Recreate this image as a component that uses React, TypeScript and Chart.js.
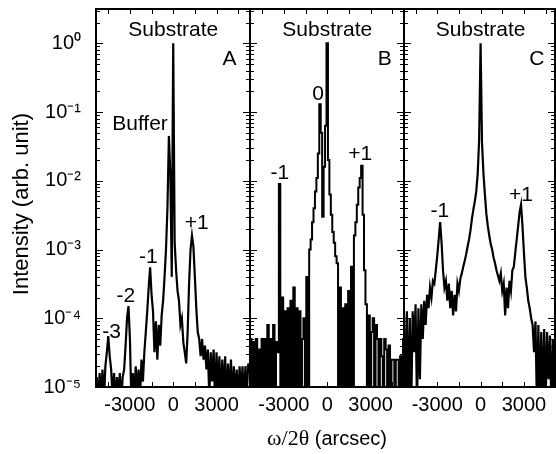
import { useEffect, useRef } from 'react';
import { Chart, registerables } from 'chart.js';

Chart.register(...registerables);

const FONT = '"Liberation Sans", Arial, Helvetica, sans-serif';
const SERIF = '"Liberation Serif", "Times New Roman", serif';

// omega/2theta angle (arcsec), shared by the three scans
const angles = [
  -5300, -5200, -5100, -5000, -4900, -4800, -4700, -4600, -4500, -4400,
  -4300, -4200, -4100, -4000, -3900, -3800, -3700, -3600, -3500, -3400,
  -3300, -3200, -3100, -3000, -2900, -2800, -2700, -2600, -2500, -2400,
  -2300, -2200, -2100, -2000, -1900, -1800, -1700, -1600, -1500, -1400,
  -1300, -1200, -1100, -1000, -900, -800, -700, -600, -500, -400,
  -300, -200, -100, 0, 100, 200, 300, 400, 500, 600,
  700, 800, 900, 1000, 1100, 1200, 1300, 1400, 1500, 1600,
  1700, 1800, 1900, 2000, 2100, 2200, 2300, 2400, 2500, 2600,
  2700, 2800, 2900, 3000, 3100, 3200, 3300, 3400, 3500, 3600,
  3700, 3800, 3900, 4000, 4100, 4200, 4300, 4400, 4500, 4600,
  4700, 4800, 4900, 5000, 5100, 5200, 5300,
];

// Panel A intensity (arb. unit)
const intensityA = [
  1.4e-5, 6e-6, 1.6e-5, 7e-6, 1.8e-5, 6e-6, 2e-5, 3.2e-5, 5.5e-5, 2.8e-5,
  1.8e-5, 7e-6, 1.6e-5, 6e-6, 1.4e-5, 7e-6, 1.6e-5, 6e-6, 1.4e-5, 1.8e-5,
  4e-5, 1e-4, 1.5e-4, 5e-5, 6e-6, 1.6e-5, 7e-6, 2e-5, 8e-6, 1.8e-5,
  7e-6, 2.5e-5, 1.2e-5, 3.2e-5, 6.3e-5, 1.26e-4, 2.8e-4, 5.5e-4, 2.2e-4, 1.26e-4,
  3.2e-5, 9e-5, 2.5e-5, 8e-5, 4e-5, 1.1e-4, 1.8e-4, 4e-4, 1e-3, 4e-3,
  0.045, 0.0126, 4e-4, 1, 1.26e-3, 5e-4, 2.5e-4, 1.8e-4, 8e-5, 1e-4,
  4.5e-5, 3.2e-5, 2.2e-5, 6.3e-5, 3.2e-4, 1e-3, 1.6e-3, 1.1e-3, 4e-4, 1.4e-4,
  6.3e-5, 5e-5, 2.8e-5, 5e-5, 2.5e-5, 4e-5, 1.8e-5, 3.5e-5, 7e-6, 3.2e-5,
  1.2e-5, 3.5e-5, 6e-6, 3.2e-5, 8e-6, 2.8e-5, 6e-6, 2.5e-5, 8e-6, 2.8e-5,
  6e-6, 2.2e-5, 7e-6, 2.5e-5, 6e-6, 2e-5, 7e-6, 1.8e-5, 6e-6, 2e-5,
  7e-6, 2e-5, 6e-6, 2e-5, 8e-6, 2.2e-5, 1.6e-5,
];

// Panel B intensity (arb. unit)
const intensityB = [
  5e-5, 5e-6, 4.5e-5, 5e-6, 5e-5, 5e-6, 3.5e-5, 5e-6, 5e-5, 5e-6,
  5e-5, 5e-6, 8e-5, 5e-6, 5e-5, 5e-6, 8e-5, 5e-6, 4.5e-5, 3.2e-5,
  9e-3, 5e-6, 2e-4, 5e-6, 1.26e-4, 5e-6, 1.4e-4, 5e-6, 1.8e-4, 5e-6,
  2.8e-4, 5e-6, 1.4e-4, 5e-6, 1.26e-4, 5e-6, 5e-5, 1e-4, 5e-6, 4e-4,
  5e-6, 1e-3, 1.4e-3, 2.5e-3, 4e-3, 7e-3, 0.011, 0.025, 0.13, 0.05,
  3e-3, 0.016, 0.063, 1, 0.02, 6.3e-3, 3.2e-3, 1.8e-3, 1.26e-3, 8e-4,
  6.3e-4, 5e-6, 2.8e-4, 5e-6, 1.4e-4, 5e-6, 1.6e-4, 5e-6, 2.5e-4, 5e-6,
  5.6e-4, 5e-6, 1.6e-3, 2.5e-3, 4.5e-3, 8e-3, 0.011, 0.0166, 3.2e-3, 5e-4,
  1.6e-4, 5e-6, 1.1e-4, 5e-6, 6.3e-5, 1e-4, 5e-6, 8e-5, 5e-5, 5e-6,
  5e-5, 2.8e-5, 5e-6, 5e-5, 3.5e-5, 5e-6, 4e-5, 5e-6, 2.5e-5, 2.5e-5,
  5e-6, 2.5e-5, 2.5e-5, 5e-6, 2.8e-5, 5e-6, 5e-5,
];

// Panel C intensity (arb. unit)
const intensityC = [
  1.1e-4, 5e-6, 1.26e-4, 5e-6, 1e-4, 5e-6, 1.26e-4, 3.2e-5, 1.6e-4, 5e-6,
  1.4e-4, 1.3e-5, 1.6e-4, 5e-5, 1.8e-4, 8e-5, 2.2e-4, 1.4e-4, 2.8e-4, 2e-4,
  3.5e-4, 3.2e-4, 5e-4, 8e-4, 1.4e-3, 2.5e-3, 1.26e-3, 5e-4, 2.8e-4, 3.5e-4,
  1.8e-4, 3.2e-4, 1.4e-4, 2.5e-4, 1.1e-4, 2.2e-4, 1.26e-4, 3.2e-4, 2.5e-4, 3.8e-4,
  4.5e-4, 5.6e-4, 6.8e-4, 8.5e-4, 1.1e-3, 1.4e-3, 1.9e-3, 2.8e-3, 3.8e-3, 5e-3,
  7e-3, 0.0126, 0.04, 1, 0.035, 0.0126, 6.3e-3, 3.3e-3, 2.2e-3, 1.6e-3,
  1.2e-3, 1e-3, 7.6e-4, 6.3e-4, 5e-4, 4.2e-4, 3.5e-4, 4.5e-4, 2.5e-4, 3.2e-4,
  1.1e-4, 2.8e-4, 1.4e-4, 3.5e-4, 2.5e-4, 5e-4, 5.6e-4, 9e-4, 1.4e-3, 2.2e-3,
  3.5e-3, 4.5e-3, 2.2e-3, 9e-4, 4e-4, 2.8e-4, 1.8e-4, 1.4e-4, 1e-4, 8e-5,
  3.2e-5, 9e-5, 5e-6, 8e-5, 5e-6, 6.3e-5, 5e-6, 7e-5, 5e-6, 6.3e-5,
  1.3e-5, 5.6e-5, 5e-6, 5e-5, 5e-6, 5.6e-5, 1.6e-5,
];

const xTickValues = [-4500, -3000, -1500, 0, 1500, 3000, 4500];
const xTickLabels = ['', '-3000', '', '0', '', '3000', ''];
const yTickValues = [1e-5, 1e-4, 1e-3, 1e-2, 1e-1, 1];
const yTickLabels = ['10⁻⁵', '10⁻⁴', '10⁻³', '10⁻²', '10⁻¹', '10⁰'];
const yMinorFactors = [2, 3, 4, 5, 6, 7, 8, 9];

type Note = { text: string; x: number; y: number };

const notesA: Note[] = [
  { text: 'Substrate', x: 0, y: 1.26 },
  { text: 'A', x: 3900, y: 0.48 },
  { text: 'Buffer', x: -2300, y: 0.0557 },
  { text: '+1', x: 1620, y: 2.0e-3 },
  { text: '-1', x: -1730, y: 6.3e-4 },
  { text: '-2', x: -3290, y: 1.74e-4 },
  { text: '-3', x: -4265, y: 5.1e-5 },
];
const notesB: Note[] = [
  { text: 'Substrate', x: 0, y: 1.26 },
  { text: 'B', x: 3990, y: 0.48 },
  { text: '0', x: -640, y: 0.148 },
  { text: '+1', x: 2290, y: 0.0204 },
  { text: '-1', x: -3280, y: 0.0107 },
];
const notesC: Note[] = [
  { text: 'Substrate', x: 0, y: 1.26 },
  { text: 'C', x: 3890, y: 0.48 },
  { text: '-1', x: -2820, y: 2.95e-3 },
  { text: '+1', x: 2800, y: 5e-3 },
];

const framePlugin = {
  id: 'frameTicks',
  afterDraw(chart: any) {
    const { ctx, chartArea: a } = chart;
    const xs = chart.scales.x;
    const ys = chart.scales.y;
    ctx.save();
    ctx.strokeStyle = '#000';
    ctx.lineWidth = 1;
    ctx.beginPath();
    for (const v of xTickValues) {
      const px = Math.round(xs.getPixelForValue(v)) + 0.5;
      ctx.moveTo(px, a.bottom);
      ctx.lineTo(px, a.bottom - 5);
      ctx.moveTo(px, a.top);
      ctx.lineTo(px, a.top + 5);
    }
    for (const v of yTickValues) {
      const py = Math.round(ys.getPixelForValue(v)) + 0.5;
      ctx.moveTo(a.left, py);
      ctx.lineTo(a.left + 7, py);
      ctx.moveTo(a.right, py);
      ctx.lineTo(a.right - 7, py);
      for (const f of yMinorFactors) {
        const m = v * f;
        if (m > ys.max) continue;
        const pm = Math.round(ys.getPixelForValue(m)) + 0.5;
        ctx.moveTo(a.left, pm);
        ctx.lineTo(a.left + 4, pm);
        ctx.moveTo(a.right, pm);
        ctx.lineTo(a.right - 4, pm);
      }
    }
    ctx.stroke();
    ctx.lineWidth = 2;
    ctx.strokeRect(a.left, a.top, a.right - a.left, a.bottom - a.top);
    ctx.restore();
  },
};

function notesPlugin(notes: Note[], withXTitle: boolean) {
  return {
    id: 'panelNotes',
    afterDraw(chart: any) {
      const { ctx, chartArea: a } = chart;
      const xs = chart.scales.x;
      const ys = chart.scales.y;
      ctx.save();
      ctx.fillStyle = '#000';
      ctx.font = `21px ${FONT}`;
      ctx.textAlign = 'center';
      ctx.textBaseline = 'alphabetic';
      for (const n of notes) {
        ctx.fillText(n.text, xs.getPixelForValue(n.x), ys.getPixelForValue(n.y));
      }
      if (withXTitle) {
        const part1 = 'ω/2θ';
        const part2 = ' (arcsec)';
        ctx.textAlign = 'left';
        ctx.font = `22px ${SERIF}`;
        const w1 = ctx.measureText(part1).width;
        ctx.font = `20px ${FONT}`;
        const w2 = ctx.measureText(part2).width;
        const cx = (a.left + a.right) / 2;
        const x0 = cx - (w1 + w2) / 2;
        const base = 445;
        ctx.font = `22px ${SERIF}`;
        ctx.fillText(part1, x0, base);
        ctx.font = `20px ${FONT}`;
        ctx.fillText(part2, x0 + w1, base);
      }
      ctx.restore();
    },
  };
}

type PanelSpec = {
  values: number[];
  notes: Note[];
  showY: boolean;
  stepped: boolean;
  lineWidth: number;
  xMin: number;
  xMax: number;
  padLeft: number;
  padRight: number;
  xTitle: boolean;
};

function makeChart(canvas: HTMLCanvasElement, p: PanelSpec) {
  return new Chart(canvas, {
    type: 'line',
    data: {
      datasets: [
        {
          data: angles.map((a, i) => ({ x: a, y: p.values[i] })),
          borderColor: '#000',
          borderWidth: p.lineWidth,
          pointRadius: 0,
          fill: false,
          tension: 0,
          stepped: p.stepped ? 'middle' : false,
        } as any,
      ],
    },
    options: {
      animation: false,
      responsive: false,
      maintainAspectRatio: false,
      devicePixelRatio: 1,
      layout: { padding: { left: p.padLeft, right: p.padRight, top: 9, bottom: 0 } },
      plugins: { legend: { display: false }, tooltip: { enabled: false } },
      scales: {
        x: {
          type: 'linear',
          min: p.xMin,
          max: p.xMax,
          afterBuildTicks: (s: any) => {
            s.ticks = xTickValues.map((v) => ({ value: v }));
          },
          afterFit: (s: any) => {
            s.height = 454 - 387;
            s.paddingLeft = 0;
            s.paddingRight = 0;
          },
          ticks: {
            autoSkip: false,
            maxRotation: 0,
            minRotation: 0,
            padding: -2,
            color: '#000',
            font: { family: FONT, size: 20 },
            callback: (_v: any, i: number) => xTickLabels[i] ?? '',
          },
          grid: { display: false },
          border: { display: false },
        },
        y: {
          type: 'logarithmic',
          display: p.showY,
          min: 1e-5,
          max: 3.16,
          afterBuildTicks: (s: any) => {
            s.ticks = yTickValues.map((v) => ({ value: v }));
          },
          afterFit: (s: any) => {
            s.width = p.showY ? 96 : 0;
            s.paddingTop = 0;
            s.paddingBottom = 0;
          },
          ticks: {
            autoSkip: false,
            padding: 7,
            color: '#000',
            font: { family: FONT, size: 20 },
            callback: (_v: any, i: number) => yTickLabels[i] ?? '',
          },
          grid: { display: false },
          border: { display: false },
          title: {
            display: p.showY,
            text: 'Intensity (arb. unit)  ',
            color: '#000',
            font: { family: FONT, size: 22 },
            padding: { top: 9, bottom: 0 },
          },
        },
      },
    } as any,
    plugins: [framePlugin, notesPlugin(p.notes, p.xTitle)],
  });
}

export default function App() {
  const refA = useRef<HTMLCanvasElement>(null);
  const refB = useRef<HTMLCanvasElement>(null);
  const refC = useRef<HTMLCanvasElement>(null);

  useEffect(() => {
    const charts = [
      makeChart(refA.current!, {
        values: intensityA, notes: notesA, showY: true, stepped: false, lineWidth: 2.2,
        xMin: -5350, xMax: 5320, padLeft: 0, padRight: 2, xTitle: false,
      }),
      makeChart(refB.current!, {
        values: intensityB, notes: notesB, showY: false, stepped: true, lineWidth: 2,
        xMin: -5350, xMax: 5320, padLeft: 4, padRight: 4, xTitle: true,
      }),
      makeChart(refC.current!, {
        values: intensityC, notes: notesC, showY: false, stepped: false, lineWidth: 2.2,
        xMin: -5300, xMax: 5150, padLeft: 4, padRight: 1, xTitle: false,
      }),
    ];
    return () => charts.forEach((c) => c.destroy());
  }, []);

  const base: any = { position: 'absolute', top: 0, height: 454 };
  return (
    <div style={{ position: 'absolute', left: 0, top: 0, width: 556, height: 454, background: '#fff', overflow: 'hidden' }}>
      <canvas ref={refA} width={252} height={454} style={{ ...base, left: 0, width: 252 }} />
      <canvas ref={refB} width={162} height={454} style={{ ...base, left: 246, width: 162 }} />
      <canvas ref={refC} width={156} height={454} style={{ ...base, left: 400, width: 156 }} />
    </div>
  );
}
